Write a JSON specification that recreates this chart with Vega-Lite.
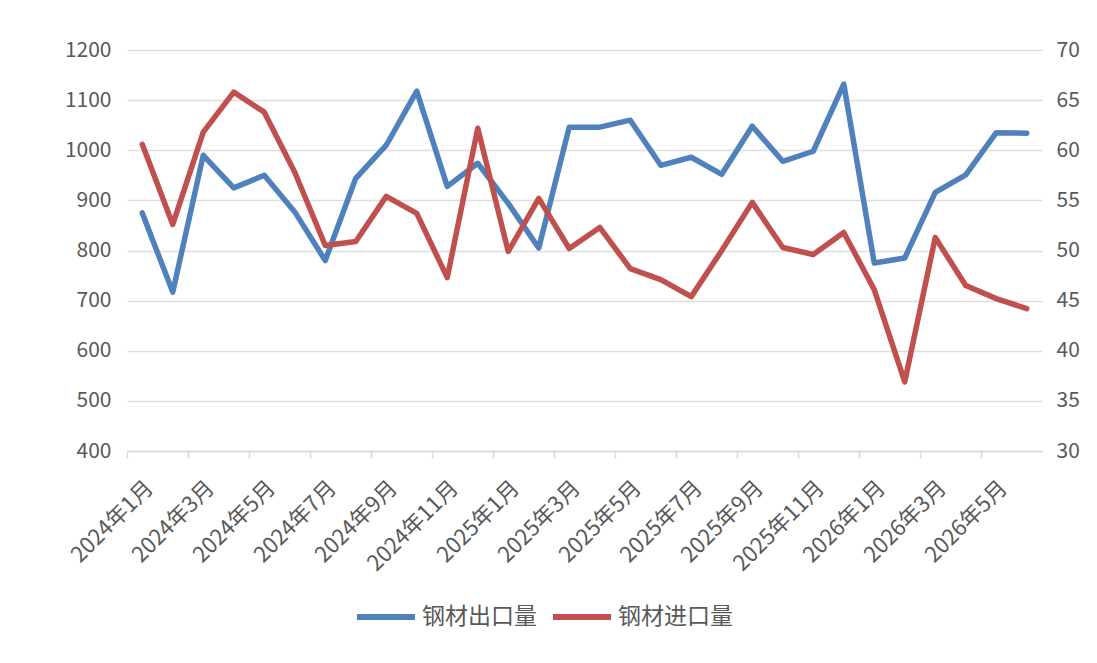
{
  "$schema": "https://vega.github.io/schema/vega-lite/v6.json",
  "width": 915,
  "height": 401,
  "autosize": {"type": "none"},
  "padding": {"left": 127, "top": 50, "right": 55, "bottom": 212},
  "background": "#ffffff",
  "data": {
    "values": [
      {"month": "2024年1月", "export": 875, "import": 60.6},
      {"month": "2024年2月", "export": 717, "import": 52.6},
      {"month": "2024年3月", "export": 990, "import": 61.8},
      {"month": "2024年4月", "export": 925, "import": 65.8},
      {"month": "2024年5月", "export": 950, "import": 63.8},
      {"month": "2024年6月", "export": 877, "import": 57.8},
      {"month": "2024年7月", "export": 780, "import": 50.5},
      {"month": "2024年8月", "export": 944, "import": 50.9},
      {"month": "2024年9月", "export": 1010, "import": 55.4},
      {"month": "2024年10月", "export": 1118, "import": 53.7},
      {"month": "2024年11月", "export": 928, "import": 47.3},
      {"month": "2024年12月", "export": 974, "import": 62.2},
      {"month": "2025年1月", "export": 894, "import": 49.9},
      {"month": "2025年2月", "export": 805, "import": 55.2},
      {"month": "2025年3月", "export": 1046, "import": 50.2},
      {"month": "2025年4月", "export": 1046, "import": 52.3},
      {"month": "2025年5月", "export": 1060, "import": 48.2},
      {"month": "2025年6月", "export": 970, "import": 47.1},
      {"month": "2025年7月", "export": 986, "import": 45.4},
      {"month": "2025年8月", "export": 952, "import": 50.0},
      {"month": "2025年9月", "export": 1048, "import": 54.8},
      {"month": "2025年10月", "export": 978, "import": 50.3},
      {"month": "2025年11月", "export": 998, "import": 49.6},
      {"month": "2025年12月", "export": 1132, "import": 51.8},
      {"month": "2026年1月", "export": 775, "import": 46.1},
      {"month": "2026年2月", "export": 785, "import": 36.9},
      {"month": "2026年3月", "export": 916, "import": 51.3},
      {"month": "2026年4月", "export": 951, "import": 46.5},
      {"month": "2026年5月", "export": 1035, "import": 45.2},
      {"month": "2026年6月", "export": 1034, "import": 44.2}
    ]
  },
  "encoding": {
    "x": {
      "field": "month",
      "type": "ordinal",
      "sort": null,
      "scale": {"type": "point", "padding": 0.5},
      "axis": {
        "title": null,
        "values": ["2024年1月", "2024年3月", "2024年5月", "2024年7月", "2024年9月", "2024年11月", "2025年1月", "2025年3月", "2025年5月", "2025年7月", "2025年9月", "2025年11月", "2026年1月", "2026年3月", "2026年5月"],
        "labelAngle": -45,
        "labelAlign": "right",
        "labelBaseline": "middle",
        "labelPadding": 26,
        "tickOffset": -15.25,
        "labelOffset": 22,
        "tickSize": 7,
        "tickColor": "#d9d9d9",
        "tickWidth": 1.5,
        "domainColor": "#d9d9d9",
        "domainWidth": 1.5,
        "grid": false,
        "labelFontSize": 22
      }
    }
  },
  "layer": [
    {
      "mark": {"type": "line", "strokeWidth": 5.5, "strokeJoin": "round", "strokeCap": "round"},
      "encoding": {
        "y": {
          "field": "export",
          "type": "quantitative",
          "scale": {"domain": [400, 1200], "nice": false, "zero": false},
          "axis": {
            "title": null,
            "orient": "left",
            "format": "d",
            "values": [400, 500, 600, 700, 800, 900, 1000, 1100, 1200],
            "domain": false,
            "ticks": false,
            "grid": true,
            "gridColor": "#dedede",
            "gridWidth": 1.5,
            "labelPadding": 16,
            "labelFontSize": 21
          }
        },
        "color": {
          "datum": "钢材出口量",
          "scale": {"domain": ["钢材出口量", "钢材进口量"], "range": ["#4F81BD", "#C0504D"]},
          "legend": {"title": null}
        }
      }
    },
    {
      "mark": {"type": "line", "strokeWidth": 5.5, "strokeJoin": "round", "strokeCap": "round"},
      "encoding": {
        "y": {
          "field": "import",
          "type": "quantitative",
          "scale": {"domain": [30, 70], "nice": false, "zero": false},
          "axis": {
            "title": null,
            "orient": "right",
            "values": [30, 35, 40, 45, 50, 55, 60, 65, 70],
            "domain": false,
            "ticks": false,
            "grid": false,
            "labelPadding": 14,
            "labelFontSize": 21
          }
        },
        "color": {"datum": "钢材进口量"}
      }
    }
  ],
  "resolve": {"scale": {"y": "independent"}},
  "config": {
    "font": "Noto Sans CJK SC",
    "view": {"stroke": null},
    "axis": {"labelColor": "#595959", "labelFont": "Noto Sans CJK SC"},
    "legend": {
      "orient": "none",
      "legendX": 227,
      "legendY": 535,
      "direction": "horizontal",
      "symbolType": "stroke",
      "symbolSize": 3364,
      "symbolStrokeWidth": 6,
      "labelFontSize": 23,
      "labelColor": "#595959",
      "labelFont": "Noto Sans CJK SC",
      "columnPadding": 4,
      "labelOffset": 4,
      "padding": 0
    }
  }
}
